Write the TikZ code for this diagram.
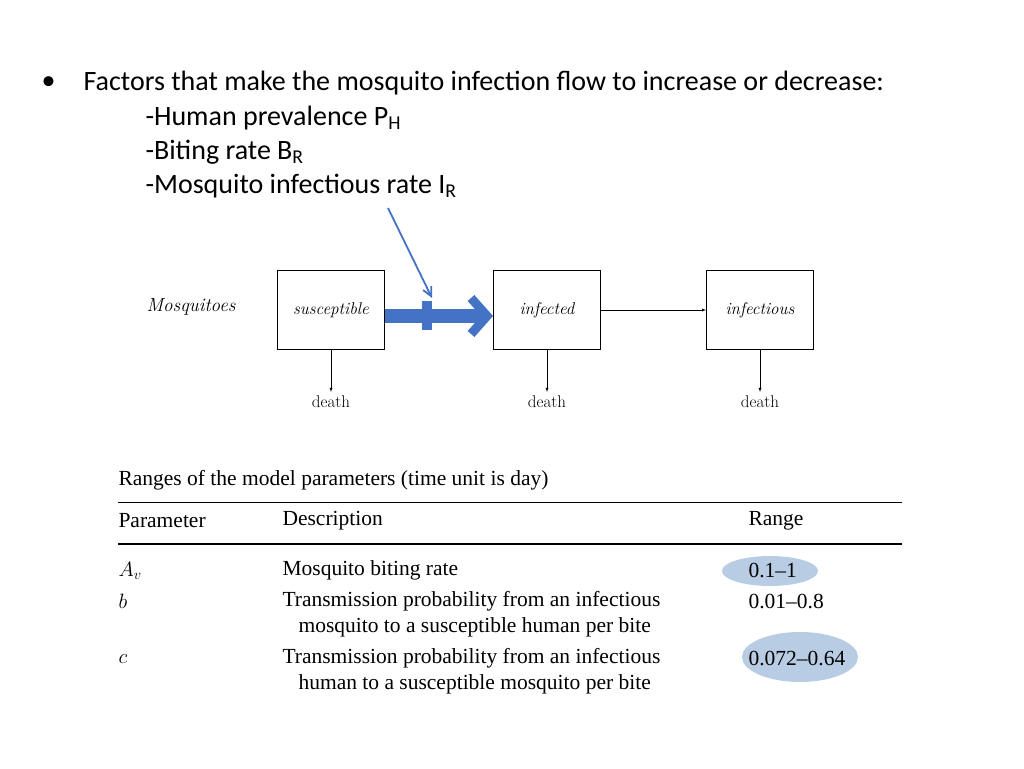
\documentclass[tikz,border=0pt]{standalone}
\usepackage{fontspec}
\setmainfont{Liberation Serif}
\newfontfamily\calib{Carlito}
\newfontfamily\lmr{Latin Modern Roman}
\usetikzlibrary{positioning,arrows.meta}
\tikzset{>=latex}
\definecolor{slideblue}{RGB}{68,114,196}
\definecolor{hilite}{RGB}{184,204,228}
\tikzset{
  stage/.style={draw, line width=0.9pt, minimum width=107pt, minimum height=79pt, font=\lmr\itshape\fontsize{17}{20}\selectfont},
  bullettext/.style={anchor=west, font=\calib\fontsize{28}{32}\selectfont},
  tabtext/.style={anchor=west, font=\fontsize{21.5}{25}\selectfont},
  deathlabel/.style={font=\lmr\fontsize{17}{20}\selectfont}
}
\begin{document}
\begin{tikzpicture}[x=1pt,y=-1pt]
  \useasboundingbox (0,0) rectangle (1024,768);
  % bullet list
  \node[bullettext] (dot) at (38,83) {\textbullet};
  \node[bullettext] (f0) at (80,83) {Factors that make the mosquito infection flow to increase or decrease:};
  \node[bullettext] (f1) at (142,118) {-Human prevalence P\textsubscript{H}};
  \node[bullettext] (f2) at (142,152) {-Biting rate B\textsubscript{R}};
  \node[bullettext] (f3) at (142,186) {-Mosquito infectious rate I\textsubscript{R}};
  % mosquito stages
  \node[font=\lmr\itshape\fontsize{19}{22}\selectfont] (mos) at (191,307) {Mosquitoes};
  \node[stage] (sus) at (331,310) {susceptible};
  \node[stage] (inf) at (547,310) {infected};
  \node[stage] (ifs) at (760,310) {infectious};
  \foreach \s in {sus,inf,ifs} {
    \node[deathlabel, below=42pt of \s] (d\s) {death};
    \draw[->] (\s.south) -- (d\s.north);
  }
  \draw[->] (inf) -- (ifs);
  % thick flow and factor arrow
  \draw[slideblue, line width=14pt, -{Straight Barb[length=16pt,width=36pt,line width=9pt]}] ([yshift=-6pt]sus.east) -- ([yshift=-6pt]inf.west);
  \coordinate (plus) at (427,315);
  \fill[slideblue] ([xshift=-5pt,yshift=-15pt]plus) rectangle ([xshift=5pt,yshift=14pt]plus);
  \coordinate (src) at (388,208);
  \draw[slideblue, line width=1.8pt, -{Straight Barb[length=9pt,width=9pt]}] (src) -- (432,298);
  % parameter table
  \fill[hilite] (770,571) ellipse (48 and 15);
  \fill[hilite] (800,657) ellipse (58 and 25);
  \node[tabtext] (title) at (115,480) {Ranges of the model parameters (time unit is day)};
  \draw[line width=1pt] (118,502) -- (902,502);
  \draw[line width=1.4pt] (118,544) -- (902,544);
  \node[tabtext] (hp) at (115,521) {Parameter};
  \node[tabtext] (hd) at (279,521) {Description};
  \node[tabtext] (hr) at (745,521) {Range};
  \node[tabtext] (p1) at (115,571) {$A_v$};
  \node[tabtext] (d1) at (279,570) {Mosquito biting rate};
  \node[tabtext] (r1) at (745,570) {0.1--1};
  \node[tabtext] (p2) at (115,601) {$b$};
  \node[tabtext] (d2) at (279,601) {Transmission probability from an infectious};
  \node[tabtext] (d2b) at (295,627) {mosquito to a susceptible human per bite};
  \node[tabtext] (r2) at (745,601) {0.01--0.8};
  \node[tabtext] (p3) at (115,659) {$c$};
  \node[tabtext] (d3) at (279,658) {Transmission probability from an infectious};
  \node[tabtext] (d3b) at (295,684) {human to a susceptible mosquito per bite};
  \node[tabtext] (r3) at (745,658) {0.072--0.64};
\end{tikzpicture}
\end{document}
